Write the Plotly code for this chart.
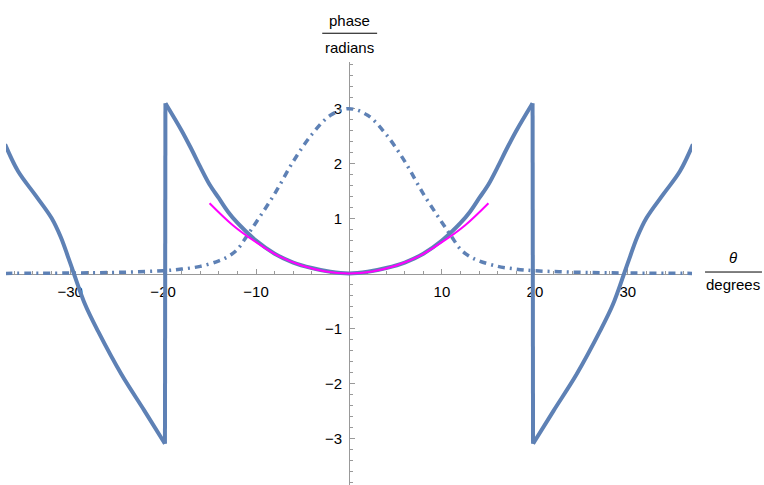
import plotly.graph_objects as go

# phase (solid); curve is symmetric in theta
# inner branch, 0 .. just before the wrap at ~19.8 degrees
theta_inner = [0, 2, 4, 6, 8, 10, 12, 13, 14, 15, 16, 17, 18, 19.75]
phase_inner = [0, 0.03, 0.1, 0.2, 0.36, 0.6, 0.92, 1.12, 1.37, 1.62, 1.94, 2.28, 2.6, 3.1]
# outer branch, after the wrap
theta_outer = [19.8, 22, 24.5, 27, 28.4, 29.6, 30.2, 31, 32, 33.8, 35.6, 37]
phase_outer = [-3.1, -2.5, -1.83, -1.05, -0.56, 0.0, 0.29, 0.66, 1.01, 1.44, 1.86, 2.35]

# amplitude (dot-dashed) - right half
theta_amp = [0, 2, 4, 6, 8, 10, 11, 12, 13, 14, 16, 18, 20, 24, 28, 32, 37]
amp = [3.0, 2.88, 2.53, 2.04, 1.45, 0.93, 0.68, 0.44, 0.31, 0.23, 0.13, 0.08, 0.05,
       0.025, 0.012, 0.006, 0.002]

# quadratic approximation (magenta)
theta_fit = [-15, -12.5, -10, -7.5, -5, -2.5, 0, 2.5, 5, 7.5, 10, 12.5, 15]
fit = [1.28, 0.88, 0.57, 0.31, 0.14, 0.035, 0, 0.035, 0.14, 0.31, 0.57, 0.88, 1.28]

x_ticks = [-30, -20, -10, 10, 20, 30]
y_ticks = [-3, -2, -1, 1, 2, 3]


def mirror(xs, ys):
    return ([-x for x in reversed(xs[1:])] + xs,
            list(reversed(ys[1:])) + ys)


BLUE = '#5E81B5'
FONT = 'Liberation Sans'
AXIS = '#999999'

solid = dict(color=BLUE, width=4)

fig = go.Figure()

# inner branch, both sides
ix, iy = mirror(theta_inner, phase_inner)
fig.add_trace(go.Scatter(x=ix, y=iy, mode='lines', line_shape='spline', line=solid))
# outer branches and the vertical wrap jumps
for sgn in (1, -1):
    ox = [sgn * t for t in theta_outer]
    fig.add_trace(go.Scatter(x=ox, y=phase_outer, mode='lines',
                             line_shape='spline', line=solid))
    fig.add_trace(go.Scatter(x=[sgn * theta_inner[-1], sgn * theta_outer[0]],
                             y=[phase_inner[-1], phase_outer[0]],
                             mode='lines', line=solid))

ax_, ay = mirror(theta_amp, amp)
fig.add_trace(go.Scatter(x=ax_, y=ay, mode='lines', line_shape='spline',
                         line=dict(color=BLUE, width=3.5, dash='7px,5px,2px,5px')))
fig.add_trace(go.Scatter(x=theta_fit, y=fit, mode='lines', line_shape='spline',
                         line=dict(color='#FF00FF', width=2)))

axis_common = dict(showline=True, linecolor=AXIS, linewidth=1, showgrid=False,
                   zeroline=False, ticks='inside', ticklen=5, tickcolor=AXIS,
                   tickfont=dict(family=FONT, size=15, color='black'),
                   anchor='free', position=0.5, layer='below traces')

fig.update_layout(
    width=764, height=485,
    margin=dict(l=6, r=72, t=62, b=0),
    plot_bgcolor='white', paper_bgcolor='white',
    showlegend=False,
    xaxis=dict(range=[-36.9, 36.9], tickvals=x_ticks, ticklabelstandoff=4,
               minor=dict(ticks='inside', ticklen=3, dtick=2, tick0=0, tickcolor=AXIS),
               **axis_common),
    yaxis=dict(range=[-3.85, 3.85], tickvals=y_ticks, ticklabelstandoff=4,
               minor=dict(ticks='inside', ticklen=3, dtick=0.2, tick0=0, tickcolor=AXIS),
               **axis_common),
    font=dict(family=FONT, size=15, color='black'),
)

labels = [
    ('phase', 0.5, 1.099),
    ('radians', 0.5, 1.035),
    ('<i>θ</i>', 1.06, 0.537),
    ('degrees', 1.06, 0.473),
]
for text, x, y in labels:
    fig.add_annotation(text=text, x=x, y=y, xref='paper', yref='paper',
                       xanchor='center', yanchor='middle', showarrow=False,
                       font=dict(family=FONT, size=15, color='black'))

fig.add_shape(type='line', xref='paper', yref='paper', x0=0.461, x1=0.541,
              y0=1.068, y1=1.068, line=dict(color='black', width=1))
fig.add_shape(type='line', xref='paper', yref='paper', x0=1.019, x1=1.102,
              y0=0.5035, y1=0.5035, line=dict(color='black', width=1))

# page body has a default 8px margin; drop it so the figure sits at the corner
fig.write_html("out.html", config={'displayModeBar': False},
               post_script="document.body.style.margin='0';")
